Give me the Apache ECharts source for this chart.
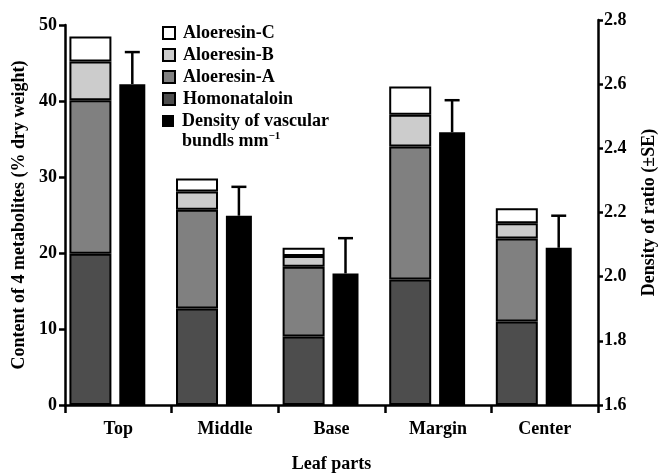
<!DOCTYPE html>
<html>
<head>
<meta charset="utf-8">
<script src="https://cdn.jsdelivr.net/npm/echarts@6/dist/echarts.min.js"></script>
<style>
  html, body { margin: 0; padding: 0; background: #fff; }
  #chart { width: 658px; height: 473px; }
</style>
</head>
<body>
<div id="chart"></div>
<script>
// Leaf parts and measured values
const parts = ['Top', 'Middle', 'Base', 'Margin', 'Center'];
const homonataloin = [19.9, 12.7, 9.0, 16.5, 11.0];
const aloeresinA = [20.2, 13.0, 9.2, 17.5, 10.9];
const aloeresinB = [5.1, 2.4, 1.4, 4.2, 2.0];
const aloeresinC = [3.3, 1.7, 1.1, 3.7, 2.0];
const density = [2.60, 2.19, 2.01, 2.45, 2.09];
const densitySE = [0.10, 0.09, 0.11, 0.10, 0.10];

// Axis ranges
const contentAxis = { min: 0, max: 50, step: 10 };
const ratioAxis = { min: 1.6, max: 2.8, step: 0.2 };

const DENSITY_NAME = 'Density of vascular bundls mm−1';

const FONT = 'Liberation Serif';
const FS = 18;
const FW = 'bold';
const AXIS_W = 2.5;

// Bar slot layout inside each category: [stack][density][spacer]
const STACK_W = 42;
const DENS_W = 26;
const PAD_W = 17;
const GAP = 0.188;
const total = STACK_W * (1 + GAP) + DENS_W * (1 + GAP) + PAD_W;
const densOffset = -total / 2 + STACK_W * (1 + GAP) + DENS_W / 2;
const CAP = 7.5;

const chart = echarts.init(document.getElementById('chart'), null, { renderer: 'canvas' });

const textBase = { fontFamily: FONT, fontSize: FS, fontWeight: FW, color: '#000' };
const lineStyle = { color: '#000', width: AXIS_W };
const legendRich = {
  a: { fontFamily: FONT, fontSize: FS, fontWeight: FW, lineHeight: 20, color: '#000' },
  s: { fontFamily: FONT, fontSize: 11, fontWeight: FW, lineHeight: 11, verticalAlign: 'top', color: '#000' }
};

function stackSeries(name, data, color) {
  return {
    name, type: 'bar', stack: 'metab', data,
    xAxisIndex: 0, yAxisIndex: 0,
    barWidth: STACK_W, barGap: GAP * 100 + '%',
    itemStyle: { color, borderColor: '#000', borderWidth: 2 }
  };
}

const legendCommon = {
  left: 162, orient: 'vertical', padding: 0,
  itemWidth: 12, itemHeight: 12, itemGap: 2,
  icon: 'rect',
  textStyle: { ...textBase, lineHeight: 20, padding: [0, 0, 0, 3], rich: legendRich }
};

const option = {
  animation: false,
  backgroundColor: '#fff',
  textStyle: { fontFamily: FONT },
  grid: [
    { left: 65, right: 60, top: 25, bottom: 68, outerBoundsMode: 'none' },
    { left: 65, right: 60, top: 20, bottom: 68, outerBoundsMode: 'none' }
  ],
  legend: [
    {
      ...legendCommon, top: 23,
      data: ['Aloeresin-C', 'Aloeresin-B', 'Aloeresin-A', 'Homonataloin'],
      formatter: name => '{a|' + name + '}'
    },
    {
      // two-line label; a blank first line keeps the swatch beside the first text line
      ...legendCommon, top: 91,
      data: [DENSITY_NAME],
      formatter: () => '{a| }\n{a|Density of vascular}\n{a|bundls mm}{s|−1}'
    }
  ],
  xAxis: [
    {
      type: 'category', gridIndex: 0, data: parts,
      axisLine: { lineStyle },
      axisTick: { show: true, length: 8, lineStyle, alignWithLabel: false },
      axisLabel: { ...textBase, margin: 15 },
      name: 'Leaf parts', nameLocation: 'middle', nameGap: 50,
      nameTextStyle: { ...textBase }
    },
    {
      type: 'category', gridIndex: 1, data: parts, show: false
    }
  ],
  yAxis: [
    {
      type: 'value', gridIndex: 0,
      min: contentAxis.min, max: contentAxis.max, interval: contentAxis.step,
      axisLine: { show: true, lineStyle },
      axisTick: { show: true, length: 6, lineStyle },
      axisLabel: { ...textBase, margin: 8 },
      splitLine: { show: false },
      name: 'Content of 4 metabolites (% dry weight)',
      nameLocation: 'middle', nameGap: 37, nameRotate: 90,
      nameTextStyle: { ...textBase }
    },
    {
      type: 'value', gridIndex: 1, position: 'right',
      min: ratioAxis.min, max: ratioAxis.max, interval: ratioAxis.step,
      axisLine: { show: true, lineStyle },
      axisTick: { show: true, length: 5, lineStyle },
      axisLabel: { ...textBase, margin: 6, formatter: v => v.toFixed(1) },
      splitLine: { show: false },
      name: 'Density of ratio (±SE)',
      nameLocation: 'middle', nameGap: 42, nameRotate: 90,
      nameTextStyle: { ...textBase }
    }
  ],
  series: [
    stackSeries('Homonataloin', homonataloin, '#4d4d4d'),
    stackSeries('Aloeresin-A', aloeresinA, '#808080'),
    stackSeries('Aloeresin-B', aloeresinB, '#cccccc'),
    stackSeries('Aloeresin-C', aloeresinC, '#ffffff'),
    // reserved slots so both grids share the same bar positions
    { type: 'bar', name: '_slotDensity', data: [], xAxisIndex: 0, yAxisIndex: 0, barWidth: DENS_W, barGap: GAP * 100 + '%' },
    { type: 'bar', name: '_slotPad', data: [], xAxisIndex: 0, yAxisIndex: 0, barWidth: PAD_W, barGap: GAP * 100 + '%' },
    { type: 'bar', name: '_slotStack', data: [], xAxisIndex: 1, yAxisIndex: 1, barWidth: STACK_W, barGap: GAP * 100 + '%' },
    {
      name: DENSITY_NAME, type: 'bar', data: density,
      xAxisIndex: 1, yAxisIndex: 1,
      barWidth: DENS_W, barGap: GAP * 100 + '%',
      itemStyle: { color: '#000', borderColor: '#000', borderWidth: 0 }
    },
    { type: 'bar', name: '_slotPad2', data: [], xAxisIndex: 1, yAxisIndex: 1, barWidth: PAD_W, barGap: GAP * 100 + '%' },
    {
      type: 'custom', name: 'SE', xAxisIndex: 1, yAxisIndex: 1, z: 5,
      data: parts.map((p, i) => [i, density[i], densitySE[i]]),
      encode: { x: 0, y: 1 },
      renderItem: function (params, api) {
        const i = api.value(0);
        const v = api.value(1);
        const se = api.value(2);
        const base = api.coord([i, v]);
        const top = api.coord([i, v + se]);
        const x = base[0] + densOffset;
        const st = { stroke: '#000', lineWidth: 2.5 };
        return {
          type: 'group',
          children: [
            { type: 'line', shape: { x1: x, y1: base[1], x2: x, y2: top[1] }, style: st },
            { type: 'line', shape: { x1: x - CAP, y1: top[1], x2: x + CAP, y2: top[1] }, style: st }
          ]
        };
      }
    }
  ]
};

chart.setOption(option);
</script>
</body>
</html>
